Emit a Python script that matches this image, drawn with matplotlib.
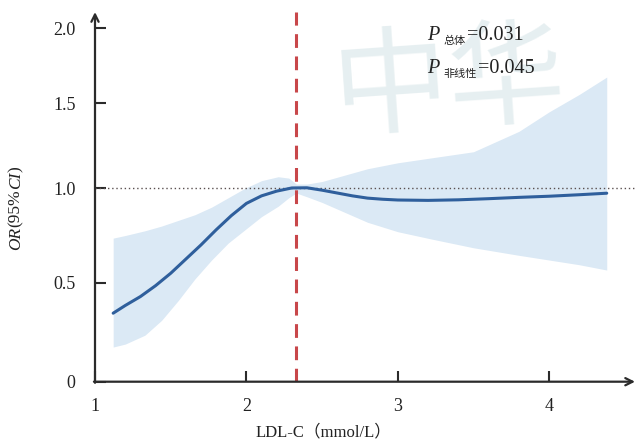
import numpy as np
import matplotlib
matplotlib.use("Agg")
import matplotlib.pyplot as plt

# LDL-C (mmol/L) vs OR, restricted cubic spline
ldl_curve = [1.12, 1.2, 1.3, 1.4, 1.5, 1.6, 1.7, 1.8, 1.9, 2.0, 2.1, 2.2, 2.3, 2.4,
             2.5, 2.6, 2.7, 2.8, 2.9, 3.0, 3.2, 3.4, 3.6, 3.8, 4.0, 4.2, 4.38]
or_curve = [0.346, 0.385, 0.43, 0.485, 0.55, 0.625, 0.70, 0.78, 0.855, 0.92, 0.96, 0.985,
            1.002, 1.003, 0.99, 0.975, 0.96, 0.948, 0.942, 0.938, 0.936, 0.939, 0.945,
            0.952, 0.958, 0.966, 0.974]

ldl_band = [1.12, 1.2, 1.33, 1.44, 1.55, 1.66, 1.77, 1.88, 1.99, 2.1, 2.21, 2.28, 2.33,
            2.4, 2.5, 2.6, 2.8, 3.0, 3.23, 3.5, 3.8, 4.0, 4.2, 4.38]
ci_lower = [0.175, 0.19, 0.235, 0.31, 0.41, 0.52, 0.62, 0.71, 0.78, 0.85, 0.905, 0.95,
            0.975, 0.955, 0.925, 0.89, 0.82, 0.77, 0.73, 0.685, 0.645, 0.62, 0.595, 0.567]
ci_upper = [0.736, 0.75, 0.775, 0.80, 0.83, 0.86, 0.90, 0.95, 1.0, 1.045, 1.068, 1.06,
            1.025, 1.025, 1.04, 1.065, 1.115, 1.15, 1.18, 1.215, 1.335, 1.45, 1.56, 1.675]

ref_ldl = 2.33
x_ticks = [1, 2, 3, 4]
y_ticks = [0, 0.5, 1.0, 1.5, 2.0]
y_tick_labels = ["0", "0.5", "1.0", "1.5", "2.0"]
p_labels = [("总体", "=0.031"), ("非线性", "=0.045")]

# the printed y axis is not linear: tick spacing shrinks going up
_scale_vals = np.array([0, 0.5, 1.0, 1.5, 2.0, 2.5])
_scale_pos = np.array([0, 99, 193.4, 278.4, 353.4, 421.0])


def y_forward(y):
    y = np.asarray(y, dtype=float)
    return np.where(y < 0, y * 198.0, np.interp(y, _scale_vals, _scale_pos))


def y_inverse(p):
    p = np.asarray(p, dtype=float)
    return np.where(p < 0, p / 198.0, np.interp(p, _scale_pos, _scale_vals))


SERIF = ["Liberation Serif", "Noto Sans CJK SC"]
CJK = ["Noto Sans CJK SC", "DejaVu Sans"]
AXIS_COLOR = "#2b2b2b"
TEXT_COLOR = "#222222"

fig = plt.figure(figsize=(6.37, 4.45), dpi=100)
y_max = 2.12
ax = fig.add_axes([95 / 637, 63.3 / 445, 540 / 637, float(y_forward(y_max)) / 445])
ax.set_yscale("function", functions=(y_forward, y_inverse))
ax.set_xlim(1, 1 + 540 / 151.4)
ax.set_ylim(0, y_max)
ax.patch.set_alpha(0)

ax.fill_between(ldl_band, ci_lower, ci_upper, color="#dbe9f5", lw=0, zorder=1)

# watermark
ax.text(0.655, 0.80, "中华", transform=ax.transAxes, ha="center", va="center",
        fontsize=84, family=CJK, color="#8fb8c0", alpha=0.22,
        rotation=4, zorder=1.5)

ax.axhline(1.0, xmin=0, xmax=1, color="#5a5050", ls=(0, (1, 2)), lw=1.0, zorder=2,
           clip_on=False)
ax.axvline(ref_ldl, color="#c8474a", ls=(0, (4.5, 2.8)), lw=2.2, zorder=2)
ax.plot(ldl_curve, or_curve, color="#2f5f9c", lw=2.2, zorder=3,
        solid_capstyle="round")

for side in ["top", "right", "left", "bottom"]:
    ax.spines[side].set_visible(False)
arrow = dict(arrowstyle="->", lw=1.6, color=AXIS_COLOR, mutation_scale=13,
             shrinkA=0, shrinkB=0)
ax.annotate("", xy=(1.0, 0), xytext=(-0.002, 0), xycoords="axes fraction",
            arrowprops=arrow, zorder=4)
ax.annotate("", xy=(0, 1.0), xytext=(0, -0.003), xycoords="axes fraction",
            arrowprops=arrow, zorder=4)

ax.set_xticks(x_ticks)
ax.set_yticks(y_ticks)
ax.set_yticklabels(y_tick_labels)
ax.minorticks_off()
ax.tick_params(axis="both", direction="in", length=8, width=1.5, color=AXIS_COLOR,
               labelsize=13, labelcolor=TEXT_COLOR)
ax.tick_params(axis="x", pad=12)
ax.tick_params(axis="y", pad=14)
for lbl in ax.get_xticklabels() + ax.get_yticklabels():
    lbl.set_family(SERIF)

fig.text(323 / 637, 1 - 432 / 445, "LDL-C（mmol/L）", ha="center", va="center",
         family=SERIF, fontsize=12, color=TEXT_COLOR)

# y label: OR(95%CI) with italic OR / CI, built from rotated pieces
prev = fig.text(16 / 637, 1 - 250 / 445, "OR", rotation=90, ha="center", va="bottom",
                family=SERIF, style="italic", fontsize=12.5, color=TEXT_COLOR)
for piece, italic in [("(95%", False), ("CI", True), (")", False)]:
    prev = ax.annotate(piece, xy=(0.5, 1), xycoords=prev, rotation=90, ha="center",
                       va="bottom", family=SERIF, style="italic" if italic else "normal",
                       fontsize=12.5, color=TEXT_COLOR, annotation_clip=False)

# P values
for i, (sub, val) in enumerate(p_labels):
    base_y = 1 - (40 + 33 * i) / 445
    tp = fig.text(427 / 637, base_y, "P", family=SERIF, style="italic", fontsize=14.5,
                  color=TEXT_COLOR, va="baseline")
    ts = ax.annotate(sub, xy=(1, 0), xycoords=tp, xytext=(3, -1),
                     textcoords="offset points", family=CJK, fontsize=8,
                     color=TEXT_COLOR, va="bottom", annotation_clip=False)
    ax.annotate(val, xy=(1, 0), xycoords=(ts, tp), xytext=(1, 0),
                textcoords="offset points", family=SERIF, fontsize=14.5,
                color=TEXT_COLOR, va="bottom", annotation_clip=False)

fig.savefig("out.png", dpi=100)
